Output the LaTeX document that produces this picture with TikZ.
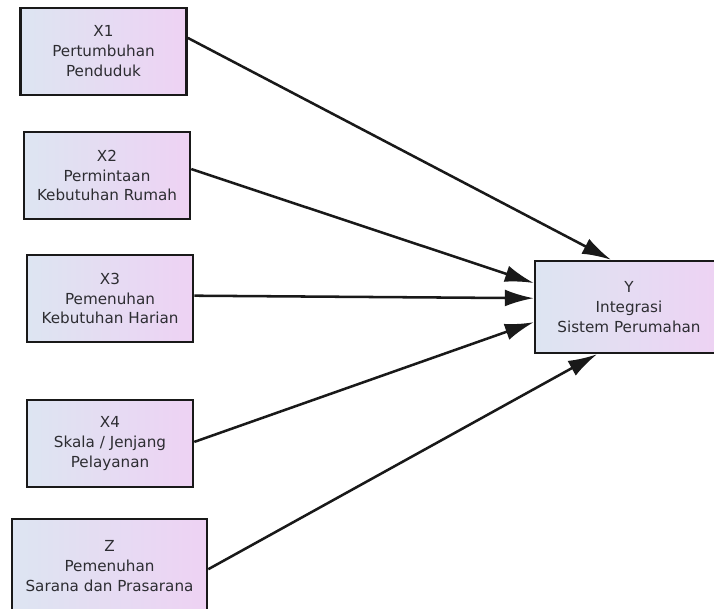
\documentclass[tikz,border=0pt]{standalone}
\usepackage{fontspec}
\setmainfont{DejaVu Sans}
\usepackage{xcolor}
\usetikzlibrary{arrows.meta, positioning}
\definecolor{boxleft}{RGB}{221,229,242}
\definecolor{boxright}{RGB}{238,210,243}
\definecolor{textgray}{RGB}{45,45,50}

\begin{document}
\begin{tikzpicture}[
    x=0.025cm, y=-0.025cm,
    factor/.style={rectangle, minimum width=4.15cm, minimum height=2.175cm, inner sep=0pt, align=center, draw=black!90, line width=1.8pt, left color=boxleft, right color=boxright, text=textgray, font=\fontsize{10.8}{14.2}\selectfont},
    target/.style={factor, minimum width=4.7cm, minimum height=2.3cm},
    link/.style={-{Latex[length=0.72cm, width=0.42cm]}, line width=1.8pt, black!90}
]
\useasboundingbox (0,0) rectangle (714,609);

% Independent variables
\node[factor] (x1) at (103.5,51.5) {X1\\Pertumbuhan\\Penduduk};
\node[factor] (x2) at (107,175.5) {X2\\Permintaan\\Kebutuhan Rumah};
\node[factor] (x3) at (110,298.5) {X3\\Pemenuhan\\Kebutuhan Harian};
\node[factor] (x4) at (110,443.5) {X4\\Skala / Jenjang\\Pelayanan};
\node[factor, minimum width=4.875cm, minimum height=2.35cm] (z) at (109.5,566) {Z\\Pemenuhan\\Sarana dan Prasarana};

% Dependent variable
\node[target] (y) at (629,307) {Y\\Integrasi\\Sistem Perumahan};

% Arrows
\draw[link] ([yshift=0.34cm]x1.east) -- ([xshift=1.93cm]y.north west);
\draw[link] ([yshift=0.16cm]x2.east) -- ([yshift=0.6cm]y.west);
\draw[link] ([yshift=0.07cm]x3.east) -- ([yshift=0.22cm]y.west);
\draw[link] ([yshift=0.04cm]x4.east) -- ([yshift=-0.38cm]y.west);
\draw[link] ([yshift=-0.08cm]z.east) -- ([xshift=1.58cm]y.south west);

\end{tikzpicture}
\end{document}
